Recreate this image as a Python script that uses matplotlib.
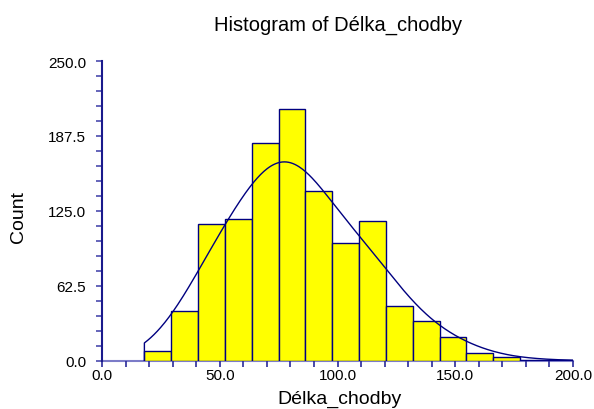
import numpy as np
import matplotlib
matplotlib.use("Agg")
from matplotlib import pyplot as plt
from matplotlib.ticker import MultipleLocator, FormatStrFormatter

plt.rcParams['font.family'] = ['Liberation Sans', 'DejaVu Sans']

# histogram of corridor length (Délka_chodby)
bin_start = 18.0
bin_end = 200.3
counts = [8, 42, 114, 118, 182, 210, 142, 98, 117, 46, 33, 20, 7, 3, 1, 1]
x_ticks = [0.0, 50.0, 100.0, 150.0, 200.0]
y_ticks = [0.0, 62.5, 125.0, 187.5, 250.0]
bandwidth = 14.5  # density trace smoothing

edges = np.linspace(bin_start, bin_end, len(counts) + 1)
width = edges[1] - edges[0]
centers = (edges[:-1] + edges[1:]) / 2
counts = np.array(counts)

# density trace scaled to counts (kernel estimate over bin centres)
xs = np.linspace(bin_start, bin_end, 400)
z = (xs[:, None] - centers[None, :]) / bandwidth
dens = (counts[None, :] * np.exp(-0.5 * z ** 2)).sum(axis=1) / (bandwidth * np.sqrt(2 * np.pi))
trace = dens * width

fig = plt.figure(figsize=(5.94, 4.10), dpi=100)
ax = fig.add_axes([102 / 594, 48 / 410, 471 / 594, 300 / 410])

ax.bar(edges[:-1], counts, width=width, align='edge', color='#ffff00',
       edgecolor='#000080', linewidth=1.0, zorder=2)
ax.plot(np.r_[xs[0], xs], np.r_[0, trace], color='#000080', linewidth=1.0, zorder=3)

ax.set_xlim(0, 200)
ax.set_ylim(0, 250)
ax.xaxis.set_major_locator(plt.FixedLocator(x_ticks))
ax.yaxis.set_major_locator(plt.FixedLocator(y_ticks))
ax.xaxis.set_minor_locator(MultipleLocator(10))
ax.yaxis.set_minor_locator(MultipleLocator(12.5))
ax.xaxis.set_major_formatter(FormatStrFormatter('%.1f'))
ax.yaxis.set_major_formatter(FormatStrFormatter('%.1f'))

for side in ['top', 'right']:
    ax.spines[side].set_visible(False)
ax.spines['left'].set_color('#1a1a8c')
ax.spines['left'].set_linewidth(1.5)
ax.spines['bottom'].set_color('#7b7bc8')
ax.spines['bottom'].set_linewidth(1.5)
ax.spines['bottom'].set_zorder(1)

ax.tick_params(axis='x', which='both', direction='out', length=4.5, width=1.2,
               color='#2a2a9a', labelsize=11, pad=0.5)
ax.tick_params(axis='y', which='both', direction='out', length=4.5, width=1.2,
               color='#4a4aae', labelsize=11, pad=7)

fig.text(338 / 594, 1 - 31 / 410, 'Histogram of Délka_chodby', ha='center',
         va='baseline', fontsize=14.5)
fig.text(339.5 / 594, 6 / 410, 'Délka_chodby', ha='center', va='baseline', fontsize=14)
fig.text(19 / 594, 1 - 217 / 410, 'Count', ha='center', va='center', rotation=90,
         fontsize=14)

fig.savefig('out.png', dpi=100)
